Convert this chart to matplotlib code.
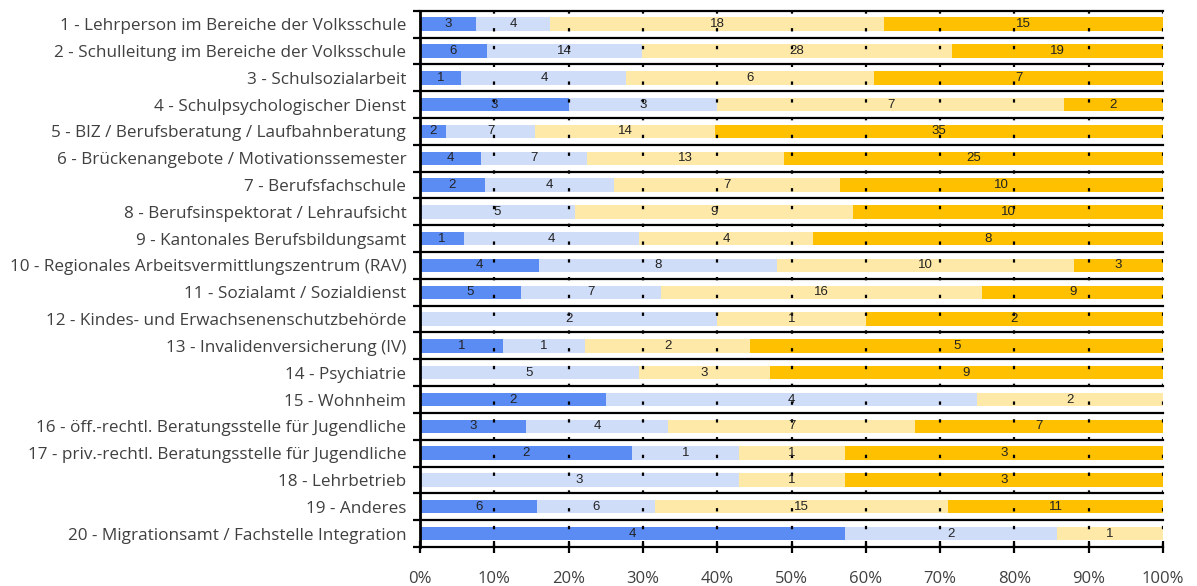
import numpy as np
import matplotlib
matplotlib.use("Agg")
import matplotlib.pyplot as plt

categories = [
    "1 - Lehrperson im Bereiche der Volksschule",
    "2 - Schulleitung im Bereiche der Volksschule",
    "3 - Schulsozialarbeit",
    "4 - Schulpsychologischer Dienst",
    "5 - BIZ / Berufsberatung / Laufbahnberatung",
    "6 - Brückenangebote / Motivationssemester",
    "7 - Berufsfachschule",
    "8 - Berufsinspektorat / Lehraufsicht",
    "9 - Kantonales Berufsbildungsamt",
    "10 - Regionales Arbeitsvermittlungszentrum (RAV)",
    "11 - Sozialamt / Sozialdienst",
    "12 - Kindes- und Erwachsenenschutzbehörde",
    "13 - Invalidenversicherung (IV)",
    "14 - Psychiatrie",
    "15 - Wohnheim",
    "16 - öff.-rechtl. Beratungsstelle für Jugendliche",
    "17 - priv.-rechtl. Beratungsstelle für Jugendliche",
    "18 - Lehrbetrieb",
    "19 - Anderes",
    "20 - Migrationsamt / Fachstelle Integration",
]

s1 = [3, 6, 1, 3, 2, 4, 2, 0, 1, 4, 5, 0, 1, 0, 2, 3, 2, 0, 6, 4]
s2 = [4, 14, 4, 3, 7, 7, 4, 5, 4, 8, 7, 2, 1, 5, 4, 4, 1, 3, 6, 2]
s3 = [18, 28, 6, 7, 14, 13, 7, 9, 4, 10, 16, 1, 2, 3, 2, 7, 1, 1, 15, 1]
s4 = [15, 19, 7, 2, 35, 25, 10, 10, 8, 3, 9, 2, 5, 9, 0, 7, 3, 3, 11, 0]

colors = ["#5b8cf3", "#cfddf8", "#fee9a8", "#ffc000"]
tick_labels = [f"{v}%" for v in range(0, 101, 10)]

data = np.array([s1, s2, s3, s4], dtype=float)
shares = data / data.sum(axis=0) * 100

fig = plt.figure(figsize=(11.97, 5.86), dpi=100)
ax = fig.add_axes([0.351, 0.0666, 0.6206, 0.915])

y = np.arange(len(categories))
left = np.zeros(len(categories))
for k in range(4):
    ax.barh(y, shares[k], left=left, height=0.5, color=colors[k], zorder=2)
    for i in range(len(categories)):
        if data[k, i] > 0:
            ax.text(left[i] + shares[k, i] / 2, y[i], str(int(data[k, i])),
                    ha="center", va="center", fontsize=9.5, color="#222222",
                    family="Liberation Sans", zorder=4)
    left += shares[k]

ax.set_xlim(0, 100)
ax.set_ylim(len(categories) - 0.5, -0.5)

# row separators
for b in np.arange(-0.5, len(categories), 1.0):
    ax.axhline(b, color="black", lw=1.6, zorder=3, clip_on=False)

# dotted vertical grid
for v in range(10, 101, 10):
    ax.axvline(v, color="black", lw=1.6, linestyle=(0, (1.5, 6.5)), zorder=3)

ax.set_xticks(range(0, 101, 10))
ax.set_xticklabels(tick_labels, fontsize=12, color="#404040", family="Open Sans")
ax.tick_params(axis="x", direction="inout", length=8, width=1.6, pad=13)

ax.set_yticks(y)
ax.set_yticklabels(categories, fontsize=12.3, color="#404040", family="Open Sans")
ax.set_yticks(np.arange(-0.5, len(categories), 1.0), minor=True)
ax.tick_params(axis="y", which="major", length=0, pad=10)
ax.tick_params(axis="y", which="minor", length=5, width=1.6, direction="out")

for side in ["top", "right", "bottom"]:
    ax.spines[side].set_visible(False)
ax.spines["left"].set_linewidth(2)
ax.spines["left"].set_zorder(5)

fig.savefig("out.png", dpi=100)
